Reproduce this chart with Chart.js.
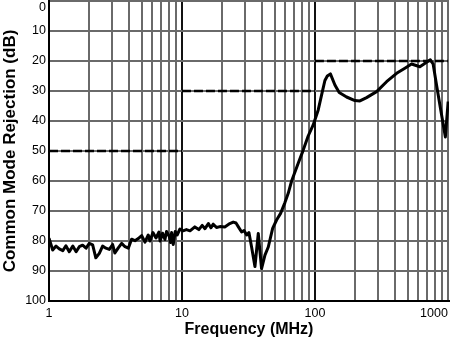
<!DOCTYPE html>
<html>
<head>
<meta charset="utf-8">
<script src="https://cdn.jsdelivr.net/npm/chart.js@4"></script>
<style>
  html, body { margin: 0; padding: 0; background: #fff; }
</style>
</head>
<body>
<canvas id="cmrChart" width="450" height="341"></canvas>
<script>
// --- data ---
const freqMHz = [1, 1.066, 1.13, 1.195, 1.27, 1.34, 1.42, 1.51, 1.6, 1.69,
  1.79, 1.9, 2.01, 2.13, 2.25, 2.39, 2.53, 2.68, 2.84, 3.01,
  3.13, 3.32, 3.52, 3.73, 3.95, 4.18, 4.43, 4.69, 4.98, 5.27,
  5.58, 5.75, 6.05, 6.38, 6.72, 6.85, 7.15, 7.45, 7.66, 8.03,
  8.2, 8.36, 8.6, 8.9, 9.2, 9.66, 10.2, 10.8, 11.5, 12.5,
  13.4, 14.2, 14.9, 15.8, 16.5, 17.2, 18.2, 19.3, 21, 22.9,
  24.3, 25.5, 26.5, 28.1, 29.3, 30.7, 31.9, 33.4, 35.4, 37.5,
  39.7, 42.1, 44.6, 48.1, 51.5, 55.2, 59.5, 63, 66.8, 74.9,
  81.7, 89, 97.1, 105.9, 112.3, 118.9, 124, 130.8, 141.4, 152.3,
  173.1, 199.8, 217.9, 244.7, 291, 346, 411.6, 475, 533, 616,
  683, 738, 775, 822, 875, 958, 1005];

const rejectionDb = [79.1, 83.0, 81.7, 82.6, 83.2, 81.6, 83.6, 81.7, 83.6, 81.9,
  81.4, 82.4, 80.8, 81.3, 85.6, 84.1, 81.7, 82.4, 82.8, 81.2,
  84.0, 82.3, 80.8, 81.9, 82.4, 79.4, 79.9, 79.2, 78.2, 80.4,
  78.0, 80.0, 77.2, 79.0, 77.0, 80.0, 77.4, 79.5, 76.8, 78.5,
  80.5, 77.2, 81.2, 76.8, 78.0, 76.0, 76.6, 76.2, 76.6, 75.3,
  76.2, 74.8, 75.9, 74.2, 75.6, 74.4, 75.5, 75.2, 75.3, 74.2,
  73.7, 74.0, 75.2, 77.0, 76.5, 78.0, 77.2, 82.0, 88.5, 77.5,
  89.2, 84.7, 82.0, 75.8, 73.0, 70.8, 67.2, 64.1, 60.0, 54.1,
  49.7, 45.0, 41.3, 36.3, 31.3, 26.5, 25.0, 24.3, 28.0, 30.5,
  32.0, 33.2, 33.3, 32.2, 30.2, 26.9, 24.1, 22.4, 21.0, 21.9,
  20.6, 19.6, 21.0, 28.0, 35.2, 45.3, 33.5];

// dashed limit segments
const limitStartMHz = [1, 10, 100];
const limitEndMHz = [10, 100, 1000];
const limitDb = [50, 30, 20];

const xLabelValues = [1, 10, 100, 1000];
const yTickStep = 10;

// log grid: 1..9 per decade, up to 1000
const xGridValues = [];
for (let dec = 1; dec <= 100; dec *= 10) {
  for (let m = 1; m <= 9; m++) xGridValues.push(m * dec);
}
xGridValues.push(1000);

const FONT = "'Liberation Sans', Arial, Helvetica, sans-serif";

const datasets = [
  {
    label: "CMR",
    data: freqMHz.map((f, i) => ({ x: f, y: rejectionDb[i] })),
    borderColor: "#000",
    borderWidth: 3,
    pointRadius: 0,
    tension: 0,
    borderJoinStyle: "round",
  },
];
limitDb.forEach((db, i) => {
  datasets.push({
    label: "limit " + i,
    data: [{ x: limitStartMHz[i], y: db }, { x: limitEndMHz[i], y: db }],
    borderColor: "#000",
    borderWidth: 2.5,
    borderDash: [9, 3],
    pointRadius: 0,
  });
});

new Chart(document.getElementById("cmrChart"), {
  type: "line",
  data: { datasets },
  options: {
    responsive: false,
    animation: false,
    layout: { padding: { top: 1, right: 1, left: 0, bottom: 0 } },
    plugins: { legend: { display: false }, tooltip: { enabled: false } },
    scales: {
      x: {
        type: "logarithmic",
        min: 1,
        max: 1020,
        afterBuildTicks: (scale) => {
          scale.ticks = xGridValues.map((v) => ({ value: v, major: xLabelValues.includes(v) }));
        },
        afterFit: (scale) => {
          scale.height = 40;
          scale.paddingRight = 0;
        },
        ticks: {
          autoSkip: false,
          maxRotation: 0,
          padding: 5,
          color: "#000",
          font: { family: FONT, size: 12.5 },
          callback: (value) => {
            if (!xLabelValues.includes(value)) return "";
            // last label sits left of its gridline, like the original
            return value === 1000 ? "1000        " : String(value);
          },
        },
        grid: {
          drawTicks: false,
          lineWidth: 2,
          color: (ctx) => (ctx.tick && (ctx.tick.value === 10 || ctx.tick.value === 100) ? "#111" : "#6a6a6a"),
        },
        border: { color: "#000", width: 2 },
        title: {
          display: true,
          text: "Frequency (MHz)",
          color: "#000",
          font: { family: FONT, size: 16, weight: "bold" },
          padding: { top: 0, bottom: 2 },
        },
      },
      y: {
        type: "linear",
        reverse: true,
        min: 0,
        max: 100,
        afterFit: (scale) => {
          scale.width = 49;
          scale.paddingTop = 0;
        },
        ticks: {
          stepSize: yTickStep,
          padding: 3,
          color: "#000",
          font: { family: FONT, size: 12.5, lineHeight: 1 },
          callback: (value) => (value === 0 ? ["", "0"] : String(value)),
        },
        grid: { drawTicks: false, lineWidth: 2, color: "#6a6a6a" },
        border: { color: "#000", width: 2 },
        title: {
          display: true,
          text: "Common Mode Rejection (dB)",
          color: "#000",
          font: { family: FONT, size: 17, weight: "bold" },
          padding: { top: 0, bottom: 0 },
        },
      },
    },
  },
});
</script>
</body>
</html>
